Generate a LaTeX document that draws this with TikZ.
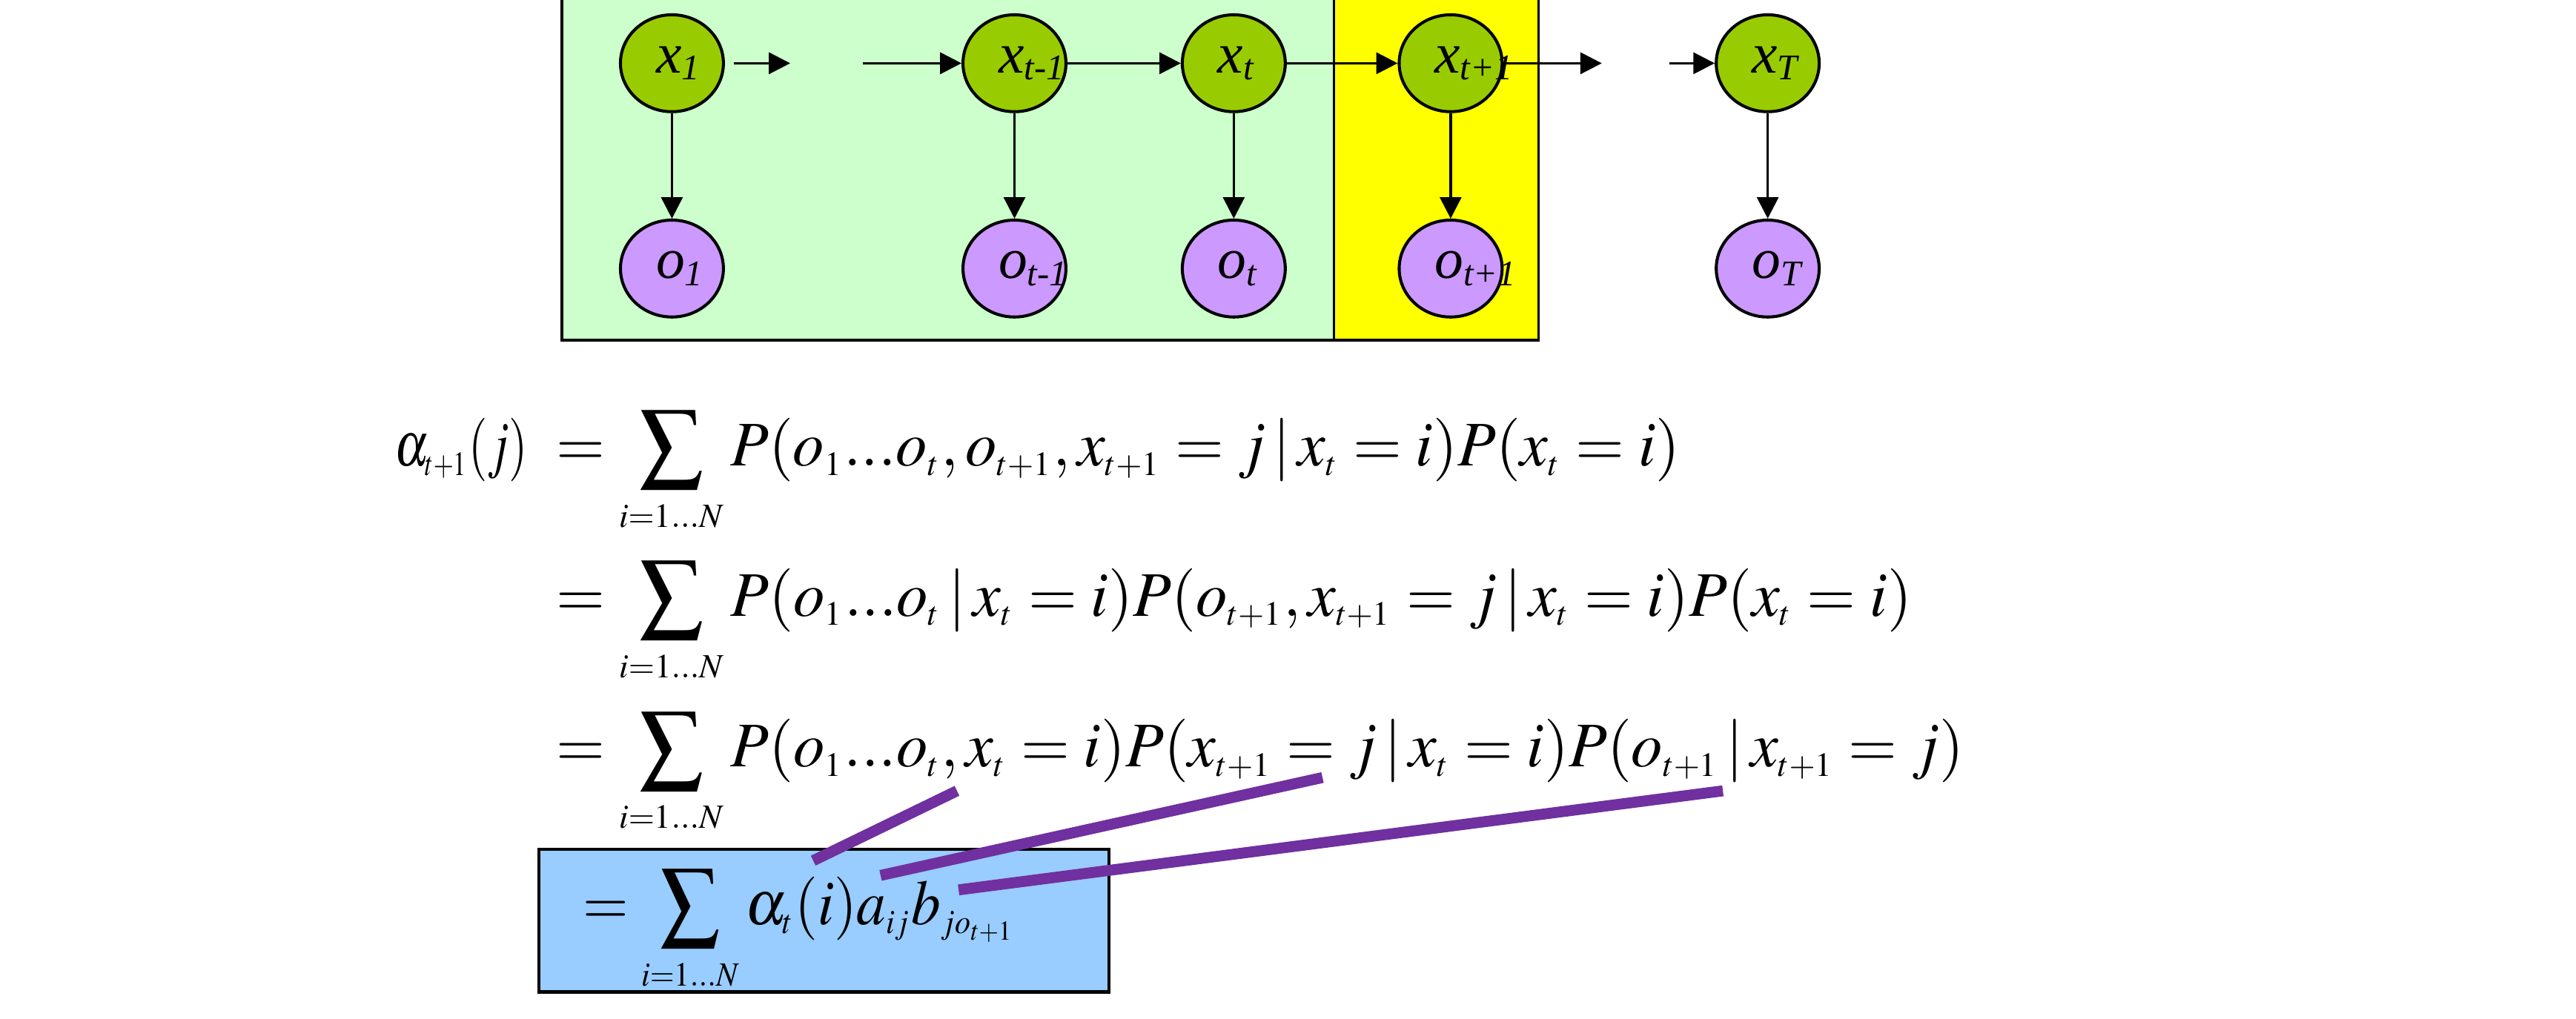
\documentclass[tikz,border=0pt]{standalone}
\usepackage{mathptmx}
\usepackage[no-math]{fontspec}
\setmainfont{Liberation Serif}
\usetikzlibrary{arrows.meta,shapes.geometric}
\DeclareMathSizes{11.6}{11.6}{6.2}{5}
\definecolor{hidgreen}{HTML}{99CC00}
\definecolor{obspurple}{HTML}{CC99FF}
\definecolor{pastgreen}{HTML}{CCFFCC}
\definecolor{nowyellow}{HTML}{FFFF00}
\definecolor{sumblue}{HTML}{99CCFF}
\definecolor{linkpurple}{HTML}{7030A0}
\newcommand{\nodelab}[2]{\rlap{\kern-2.9pt\itshape #1\raisebox{-1.3pt}{\fontsize{6.6}{7}\selectfont #2}}}
\tikzset{
  state/.style={ellipse,draw,line width=0.55pt,inner sep=0pt,minimum width=18.8pt,minimum height=17.7pt,font=\fontsize{10.5}{12}\selectfont},
  hid/.style={state,fill=hidgreen},
  obs/.style={state,fill=obspurple},
  arr/.style={-{Triangle[length=3.9pt,width=3.9pt]},line width=0.45pt},
  eq/.style={inner sep=0pt,font=\fontsize{11.6}{14}\selectfont},
  link/.style={linkpurple,line width=2pt}
}

\begin{document}
\begin{tikzpicture}[x=0.3pt,y=-0.3pt]
                \useasboundingbox (0,0) rectangle (1568,620);
                \draw[fill=pastgreen,line width=0.5pt] (342,-10) rectangle (812,207);
                \draw[fill=nowyellow,line width=0.5pt] (812,-10) rectangle (936.5,207);
                \node[hid] (x1) at (409,38.5) {\nodelab{x}{1}};
                \node[hid] (xtm) at (617.5,38.5) {\nodelab{x}{t-1}};
                \node[hid] (xt) at (751,38.5) {\nodelab{x}{t}};
                \node[hid] (xtp) at (883,38.5) {\nodelab{x}{t+1}};
                \node[hid] (xT) at (1076,38.5) {\nodelab{x}{T}};
                \node[obs] (o1) at (409,163.5) {\nodelab{o}{1}};
                \node[obs] (otm) at (617.5,163.5) {\nodelab{o}{t-1}};
                \node[obs] (ot) at (751,163.5) {\nodelab{o}{t}};
                \node[obs] (otp) at (883,163.5) {\nodelab{o}{t+1}};
                \node[obs] (oT) at (1076,163.5) {\nodelab{o}{T}};
                \coordinate (gapA) at (481,38.5);
                \coordinate (gapB) at (525,38.5);
                \coordinate (gapC) at (975,38.5);
                \coordinate (gapD) at (1016,38.5);
                \draw[arr] (x1) -- (o1);
                \draw[arr] (xtm) -- (otm);
                \draw[arr] (xt) -- (ot);
                \draw[arr] (xtp) -- (otp);
                \draw[arr] (xT) -- (oT);
                \draw[arr] ([xshift=1.6pt]x1.east) -- (gapA);
                \draw[arr] (gapB) -- (xtm);
                \draw[arr] (xtm) -- (xt);
                \draw[arr] (xt) -- (xtp);
                \draw[arr] (xtp) -- (gapC);
                \draw[arr] (gapD) -- (xT);
                \draw[fill=sumblue,line width=0.6pt] (328,517) rectangle (675,604);
                \node[eq,anchor=base east] (lhs) at (322,283.5) {\resizebox{24.3pt}{\height}{$\alpha_{t+1}(j)$}};
                \node[eq,anchor=base west] (eqA) at (338,283.5) {\resizebox{205.2pt}{\height}{$=\displaystyle\sum_{i=1...N}P(o_1...o_t,o_{t+1},x_{t+1}=j\,|\,x_t=i)P(x_t=i)$}};
                \node[eq,anchor=base west] (eqB) at (338,375) {\resizebox{247.5pt}{\height}{$=\displaystyle\sum_{i=1...N}P(o_1...o_t\,|\,x_t=i)P(o_{t+1},x_{t+1}=j\,|\,x_t=i)P(x_t=i)$}};
                \node[eq,anchor=base west] (eqC) at (338,467) {\resizebox{257.1pt}{\height}{$=\displaystyle\sum_{i=1...N}P(o_1...o_t,x_t=i)P(x_{t+1}=j\,|\,x_t=i)P(o_{t+1}\,|\,x_{t+1}=j)$}};
                \node[eq,anchor=base west] (eqD) at (354,562.7) {\resizebox{79.2pt}{\height}{$=\displaystyle\sum_{i=1...N}\alpha_t(i)a_{ij}b_{jo_{t+1}}$}};
                \coordinate (linkA1) at (582.5,481.5);
                \coordinate (linkA2) at (495,524);
                \coordinate (linkB1) at (805,473.4);
                \coordinate (linkB2) at (536,533);
                \coordinate (linkC1) at (1048.7,481.5);
                \coordinate (linkC2) at (583.5,541.8);
                \draw[link] (linkA1) -- (linkA2);
                \draw[link] (linkB1) -- (linkB2);
                \draw[link] (linkC1) -- (linkC2);
            \end{tikzpicture}
\end{document}
